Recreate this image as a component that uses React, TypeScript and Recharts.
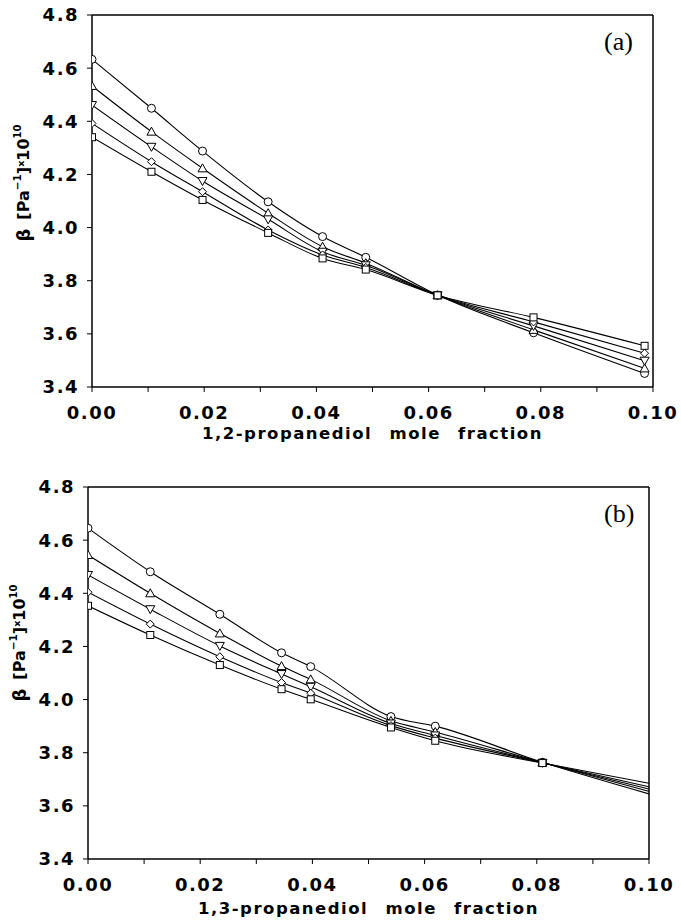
import { LineChart, Line, XAxis, YAxis, ReferenceLine } from 'recharts';

// panel (a): 1,2-propanediol
const xA = [0, 0.0106, 0.0197, 0.0314, 0.0411, 0.0488, 0.0616, 0.0787, 0.0985];
const circleA = [4.633, 4.449, 4.288, 4.097, 3.966, 3.888, 3.746, 3.604, 3.451];
const triA = [4.533, 4.361, 4.223, 4.054, 3.928, 3.866, 3.745, 3.615, 3.470];
const invA = [4.461, 4.304, 4.175, 4.031, 3.909, 3.858, 3.745, 3.630, 3.499];
const diaA = [4.392, 4.248, 4.135, 3.991, 3.897, 3.850, 3.745, 3.645, 3.527];
const sqA = [4.340, 4.210, 4.104, 3.980, 3.884, 3.842, 3.745, 3.662, 3.555];

// panel (b): 1,3-propanediol (last point is the curve end at the frame, no marker)
const xB = [0, 0.0111, 0.0235, 0.0345, 0.0397, 0.0540, 0.0619, 0.0810, 0.1];
const circleB = [4.645, 4.481, 4.321, 4.176, 4.124, 3.936, 3.900, 3.764, 3.645];
const triB = [4.544, 4.400, 4.249, 4.126, 4.076, 3.920, 3.878, 3.763, 3.655];
const invB = [4.469, 4.340, 4.202, 4.096, 4.048, 3.910, 3.865, 3.762, 3.663];
const diaB = [4.404, 4.284, 4.161, 4.064, 4.024, 3.902, 3.855, 3.762, 3.672];
const sqB = [4.353, 4.243, 4.130, 4.039, 4.001, 3.895, 3.845, 3.761, 3.685];

const X_TICKS = [0, 0.01, 0.02, 0.03, 0.04, 0.05, 0.06, 0.07, 0.08, 0.09, 0.1];
const Y_TICKS = [3.4, 3.6, 3.8, 4.0, 4.2, 4.4, 4.6, 4.8];

const SERIES = [
  { key: 'c', shape: 'circle' },
  { key: 't', shape: 'tri' },
  { key: 'v', shape: 'inv' },
  { key: 'd', shape: 'dia' },
  { key: 's', shape: 'sq' },
];

const dataA = xA.map((x, i) => ({ x, c: circleA[i], t: triA[i], v: invA[i], d: diaA[i], s: sqA[i] }));
const dataB = xB.map((x, i) => ({ x, c: circleB[i], t: triB[i], v: invB[i], d: diaB[i], s: sqB[i] }));

const FONT = 'DejaVu Sans, Arial, sans-serif';

function Marker({ cx, cy, shape }: { cx: number; cy: number; shape: string }) {
  const p = { fill: '#fff', stroke: '#000', strokeWidth: 1 };
  if (shape === 'circle') return <circle cx={cx} cy={cy} r={4} {...p} />;
  if (shape === 'tri')
    return <polygon points={`${cx},${cy - 4.5} ${cx - 4.5},${cy + 3.5} ${cx + 4.5},${cy + 3.5}`} {...p} />;
  if (shape === 'inv')
    return <polygon points={`${cx},${cy + 4.5} ${cx - 4.5},${cy - 3.5} ${cx + 4.5},${cy - 3.5}`} {...p} />;
  if (shape === 'dia')
    return <polygon points={`${cx},${cy - 4} ${cx - 4},${cy} ${cx},${cy + 4} ${cx + 4},${cy}`} {...p} />;
  return <rect x={cx - 3.5} y={cy - 3.5} width={7} height={7} {...p} />;
}

const makeDot = (shape: string, skip: number) => (props: any) => {
  const { cx, cy, index } = props;
  if (index === skip || cx == null || cy == null) return <g key={`n-${index}`} />;
  return <Marker key={`m-${index}`} cx={cx} cy={cy} shape={shape} />;
};

function XTitle({ viewBox, text, dy }: any) {
  const x = viewBox.x + viewBox.width / 2;
  const y = viewBox.y + dy;
  return (
    <text x={x} y={y} textAnchor="middle" dominantBaseline="central" fontFamily={FONT}
      fontWeight="bold" fontSize={16.5} letterSpacing={1.5} wordSpacing={10} fill="#000">
      {text}
    </text>
  );
}

function YTitle({ viewBox, shift }: any) {
  const cx = viewBox.x - 17;
  const cy = viewBox.y + viewBox.height / 2 + shift;
  return (
    <text x={cx} y={cy} transform={`rotate(-90 ${cx} ${cy})`} textAnchor="middle" dominantBaseline="central"
      fontFamily={FONT} fontWeight="bold" fontSize={16} fill="#000">
      <tspan fontSize={18}>β</tspan>
      <tspan dx={9}>[Pa</tspan>
      <tspan fontSize={10.5} dy={-6}>−1</tspan>
      <tspan dy={6}>]</tspan>
      <tspan fontSize={9.5} dy={-3}>x</tspan>
      <tspan dy={3}>10</tspan>
      <tspan fontSize={10} dy={-6}>10</tspan>
    </text>
  );
}

const tickStyle = { fill: '#000', fontSize: 18, fontWeight: 700, fontFamily: FONT, letterSpacing: 1.5 };

function Panel({ data, xTitle, tag, height, margin, skip, titleDy, labelShift }: any) {
  return (
    <div style={{ position: 'relative', width: 681, height }}>
      <LineChart width={681} height={height} data={data} margin={margin}>
        <XAxis
          dataKey="x"
          type="number"
          domain={[0, 0.1]}
          ticks={X_TICKS}
          allowDataOverflow
          tickFormatter={(v: number) => (Math.round(v * 100) % 2 === 0 ? v.toFixed(2) : '')}
          tick={tickStyle}
          tickSize={5}
          tickMargin={14}
          height={40}
          axisLine={{ stroke: '#000', strokeWidth: 1.5 }}
          tickLine={{ stroke: '#000' }}
          label={(p: any) => <XTitle {...p} text={xTitle} dy={titleDy} />}
        />
        <YAxis
          type="number"
          domain={[3.4, 4.8]}
          ticks={Y_TICKS}
          allowDataOverflow
          tickFormatter={(v: number) => v.toFixed(1)}
          tick={tickStyle}
          tickSize={5}
          tickMargin={8}
          width={52}
          axisLine={{ stroke: '#000', strokeWidth: 1.5 }}
          tickLine={{ stroke: '#000' }}
          label={(p: any) => <YTitle {...p} shift={labelShift} />}
        />
        <ReferenceLine y={4.8} stroke="#000" strokeWidth={1.5} />
        <ReferenceLine x={0.1} stroke="#000" strokeWidth={1.5} />
        {SERIES.map((s) => (
          <Line
            key={s.key}
            dataKey={s.key}
            type="monotone"
            stroke="#000"
            strokeWidth={1.1}
            dot={makeDot(s.shape, skip)}
            activeDot={false}
            isAnimationActive={false}
          />
        ))}
      </LineChart>
      <div style={{ position: 'absolute', left: 604, top: margin.top + 12, fontFamily: 'Liberation Serif, serif', fontSize: 26 }}>
        {tag}
      </div>
    </div>
  );
}

export default function App() {
  return (
    <div style={{ position: 'absolute', left: 0, top: 0, width: 681, height: 923, background: '#fff' }}>
      <Panel data={dataA} xTitle="1,2-propanediol mole fraction" tag="(a)" height={460}
        margin={{ top: 15, right: 28, left: 40, bottom: 33 }} skip={-1} titleDy={46} labelShift={-18} />
      <Panel data={dataB} xTitle="1,3-propanediol mole fraction" tag="(b)" height={463}
        margin={{ top: 27, right: 32, left: 36, bottom: 24 }} skip={xB.length - 1} titleDy={49} labelShift={-30} />
    </div>
  );
}
